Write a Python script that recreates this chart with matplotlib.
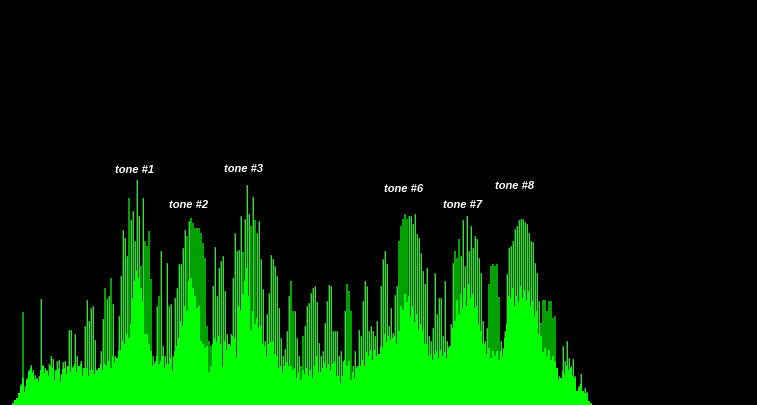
#spectrum with tone labels
import matplotlib
matplotlib.use("Agg")
import matplotlib.pyplot as plt
import numpy as np

#top of each bar
peak=[3,6,8,13,22,94,20,28,36,41,
36,31,28,30,107,41,38,36,42,50,
47,36,45,46,32,44,45,40,76,76,
40,72,50,40,45,38,80,106,85,98,
100,66,36,38,55,87,118,107,110,128,
102,50,48,90,130,176,168,150,208,186,
195,165,226,190,140,208,165,160,175,127,
50,45,100,110,155,60,50,143,100,102,
50,108,118,142,142,158,176,170,185,188,
183,178,178,178,173,163,148,80,65,60,
120,159,110,138,145,150,115,72,60,72,
128,173,155,156,190,154,187,221,192,180,
209,186,173,185,147,117,65,92,113,151,
147,140,130,98,68,50,57,75,110,125,
95,95,68,50,40,70,80,100,103,113,
118,120,104,63,50,55,83,105,121,120,
75,75,75,50,55,45,95,122,115,95,
40,55,40,76,70,105,125,120,75,80,
75,70,85,50,120,147,155,142,80,98,
73,111,120,165,180,187,192,187,190,190,
182,192,172,168,153,135,122,138,70,65,
78,133,92,108,108,70,125,65,60,82,
143,155,148,167,150,186,140,190,155,180,
158,170,167,148,133,85,65,78,122,140,
142,140,142,109,65,58,75,132,158,160,
165,177,180,186,187,187,184,182,173,165,
164,143,133,105,83,106,106,95,105,105,
88,90,38,30,28,60,45,65,48,40,
47,30,15,20,32,15,18,14,5,3]

#solid part under the spikes
floor=[3,6,8,13,20,28,14,26,34,38,
33,26,27,24,36,40,33,35,30,40,
38,26,36,37,24,37,38,32,40,34,
38,42,34,40,42,30,38,38,30,36,
36,32,36,38,42,36,42,40,45,38,
50,44,48,55,56,65,62,72,68,82,
108,125,135,128,118,105,72,72,62,55,
40,42,50,42,45,50,38,42,42,48,
36,55,60,68,85,80,100,95,125,128,
118,110,98,100,65,62,58,60,34,40,
62,68,64,70,62,39,65,56,62,60,
70,68,49,100,96,112,125,138,110,76,
95,82,88,78,80,62,60,50,62,64,
65,52,50,38,40,34,40,44,40,40,
36,38,28,34,26,36,32,38,30,36,
28,40,50,34,34,38,44,38,42,36,
42,44,30,30,23,30,46,40,45,26,
34,28,38,40,40,46,40,54,50,56,
46,56,50,52,60,58,72,64,70,66,
68,70,62,75,100,96,112,104,110,90,
100,84,92,76,82,75,62,62,50,52,
46,52,55,48,56,50,54,48,58,60,
78,85,106,92,112,98,118,100,122,108,
112,98,100,82,75,62,62,52,58,48,
55,50,55,46,55,50,68,82,110,108,
118,100,110,104,120,108,116,106,115,100,
105,90,95,72,70,54,58,50,56,46,
50,44,38,26,28,35,32,40,36,38,
30,28,15,18,22,15,13,12,5,3]

#bars whose spike is the darker green
dark_bars=[5,46,49,58,64,66,67,68,69,73,87,89,90,91,92,93,94,95,96,97,98,99,
115,119,121,139,140,144,145,167,168,169,193,194,195,196,197,221,222,223,
238,239,240,241,242,243,264,265,266,267,268,269,270,271]

tone_labels=["tone #1","tone #2","tone #3","tone #6","tone #7","tone #8"]
tone_at=[61,88,115.5,195.5,225,251]
tone_y=[236,201,237,217,201,220]

x=np.arange(len(peak))
is_dark=np.isin(x,dark_bars)
peak=np.array(peak)
floor=np.array(floor)

fig=plt.figure(figsize=(7.57,4.06),dpi=100,facecolor="black")
ax=fig.add_axes([0,0,1,1])
ax.set_facecolor("black")
ax.bar(x[is_dark],peak[is_dark],width=1.0,color="#00a000",linewidth=0,zorder=1)
ax.bar(x[~is_dark],peak[~is_dark],width=1.0,color="#007000",linewidth=0,zorder=1)
ax.vlines(x[~is_dark],0,peak[~is_dark],color="#00ff00",linewidth=0.72,zorder=2)
ax.bar(x,floor,width=1.0,color="#00ff00",linewidth=0,zorder=3)
for name,tx,ty in zip(tone_labels,tone_at,tone_y):
	ax.text(tx,ty,name,color="white",fontsize=8,fontweight="bold",fontstyle="italic",
		family="Liberation Sans",ha="center",va="center",zorder=4)
ax.set_xlim(-6.5,372)
ax.set_ylim(0.5,406.5)
ax.axis("off")
fig.savefig("out.png",dpi=100,facecolor="black")
